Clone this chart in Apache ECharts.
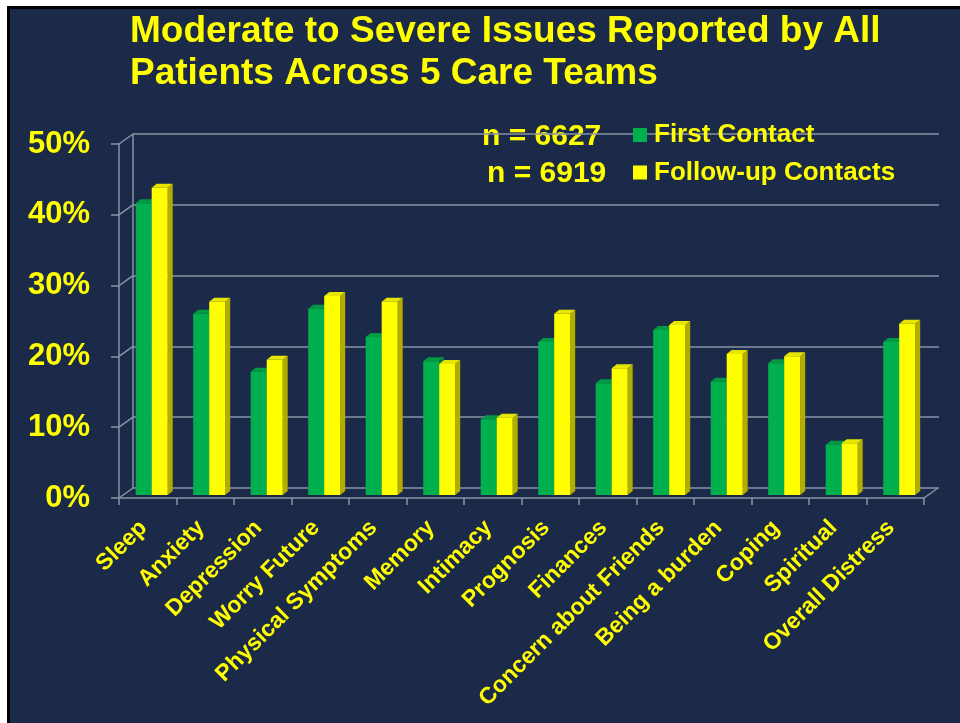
<!DOCTYPE html>
<html>
<head>
<meta charset="utf-8">
<script src="https://cdn.jsdelivr.net/npm/echarts@6/dist/echarts.min.js"></script>
<style>
  html, body { margin: 0; padding: 0; background: #fff; }
  #main { width: 960px; height: 723px; }
</style>
</head>
<body>
<div id="main"></div>
<script>
const categories = ['Sleep', 'Anxiety', 'Depression', 'Worry Future', 'Physical Symptoms', 'Memory', 'Intimacy',
  'Prognosis', 'Finances', 'Concern about Friends', 'Being a burden', 'Coping', 'Spiritual', 'Overall Distress'];
const firstContact = [41.2, 25.6, 17.4, 26.3, 22.3, 18.9, 10.7, 21.6, 15.8, 23.3, 16.0, 18.6, 7.1, 21.6];
const followUp = [43.4, 27.3, 19.1, 28.1, 27.3, 18.5, 10.9, 25.6, 17.9, 24.0, 19.9, 19.6, 7.3, 24.2];
const wallLevels = [0, 10, 20, 30, 40, 50];

const NAVY = '#1b2a48';
const YELLOW = '#ffff00';
const GRID = '#8a93a6';

// 3D-looking bar: front face, side face and top face
function bar3d(offset, front, side, top) {
  return function (params, api) {
    const base = api.coord([api.value(0), 0]);
    const peak = api.coord([api.value(0), api.value(1)]);
    const band = api.size([1, 0])[0];
    const x0 = base[0] - band / 2 + offset;
    const yb = base[1] - 3, yt = peak[1] - 3;
    const w = 16, d = 5, dy = 4;
    return {
      type: 'group',
      children: [
        { type: 'polygon', shape: { points: [[x0 + w, yt], [x0 + w + d, yt - dy], [x0 + w + d, yb - dy], [x0 + w, yb]] }, style: { fill: side } },
        { type: 'polygon', shape: { points: [[x0, yt], [x0 + d, yt - dy], [x0 + w + d, yt - dy], [x0 + w, yt]] }, style: { fill: top } },
        { type: 'rect', shape: { x: x0, y: yt, width: w, height: yb - yt }, style: { fill: front } }
      ]
    };
  };
}

const chart = echarts.init(document.getElementById('main'));
chart.setOption({
  backgroundColor: '#fff',
  animation: false,
  textStyle: { fontFamily: 'Liberation Sans' },
  graphic: [
    { type: 'rect', z: -100, shape: { x: 8.5, y: 7.5, width: 960, height: 720 }, style: { fill: NAVY, stroke: '#000', lineWidth: 3 } },
    { type: 'text', left: 482, top: 122, style: { text: 'n = 6627', fill: YELLOW, font: 'bold 30px "Liberation Sans"' } },
    { type: 'text', left: 487, top: 159, style: { text: 'n = 6919', fill: YELLOW, font: 'bold 30px "Liberation Sans"' } }
  ],
  title: {
    text: 'Moderate to Severe Issues Reported by All\nPatients Across 5 Care Teams',
    left: 130,
    top: 11,
    padding: 0,
    textStyle: { color: YELLOW, fontSize: 37, fontWeight: 'bold', lineHeight: 42, fontFamily: 'Liberation Sans' }
  },
  legend: {
    orient: 'vertical',
    left: 633,
    top: 122,
    padding: 0,
    itemWidth: 14,
    itemHeight: 14,
    itemGap: 11.5,
    data: [{ name: 'First Contact', icon: 'rect' }, { name: 'Follow-up Contacts', icon: 'rect' }],
    textStyle: { color: YELLOW, fontSize: 26, fontWeight: 'bold', lineHeight: 26, padding: [0, 0, 0, 2] }
  },
  grid: [
    { left: 119, right: 36, top: 144, bottom: 225 },
    { left: 133, right: 21, top: 134, bottom: 235 }
  ],
  xAxis: [
    {
      type: 'category', gridIndex: 0, data: categories,
      axisLine: { lineStyle: { color: GRID, width: 1.5 } },
      axisTick: { show: true, length: 7, lineStyle: { color: GRID, width: 1.5 } },
      axisLabel: { rotate: 45, margin: 22, color: YELLOW, fontSize: 23, fontWeight: 'bold', interval: 0, padding: [0, 6, 0, 0] },
      splitLine: { show: false }
    },
    { type: 'category', gridIndex: 1, data: categories, show: false }
  ],
  yAxis: [
    {
      type: 'value', gridIndex: 0, min: 0, max: 50, interval: 10,
      axisLine: { show: true, lineStyle: { color: GRID, width: 1.5 } },
      axisTick: { show: true, length: 8, lineStyle: { color: GRID, width: 1.5 } },
      axisLabel: { margin: 29, color: YELLOW, fontSize: 31, fontWeight: 'bold', formatter: '{value}%', padding: [8, 0, 0, 0] },
      splitLine: { show: false }
    },
    {
      type: 'value', gridIndex: 1, min: 0, max: 50, interval: 10,
      axisLine: { show: true, lineStyle: { color: GRID, width: 1.5 } },
      axisTick: { show: false },
      axisLabel: { show: false },
      splitLine: { show: true, lineStyle: { color: GRID, width: 1.5 } }
    }
  ],
  series: [
    {
      // wall edges joining front axis to back wall
      type: 'custom', xAxisIndex: 0, yAxisIndex: 0, silent: true, z: 1,
      data: wallLevels.map(v => [0, v, -1]).concat([[categories.length - 1, 0, 1]]),
      renderItem: (params, api) => {
        const p = api.coord([api.value(0), api.value(1)]);
        const band = api.size([1, 0])[0];
        const x = p[0] + api.value(2) * band / 2;
        return { type: 'line', shape: { x1: x, y1: p[1], x2: x + 14, y2: p[1] - 10 }, style: { stroke: GRID, lineWidth: 1.5 } };
      }
    },
    {
      name: 'First Contact', type: 'custom', xAxisIndex: 0, yAxisIndex: 0, z: 3,
      itemStyle: { color: '#00b04f' },
      data: firstContact.map((v, i) => [i, v]),
      renderItem: bar3d(16.7, '#00b04f', '#007a36', '#009a44')
    },
    {
      name: 'Follow-up Contacts', type: 'custom', xAxisIndex: 0, yAxisIndex: 0, z: 4,
      itemStyle: { color: YELLOW },
      data: followUp.map((v, i) => [i, v]),
      renderItem: bar3d(32.7, YELLOW, '#b3ad00', '#e6e600')
    }
  ]
});
</script>
</body>
</html>
